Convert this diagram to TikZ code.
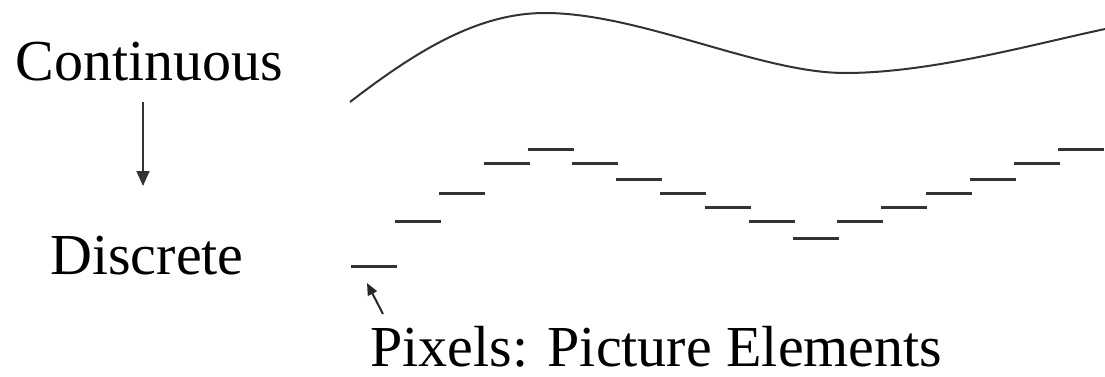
\documentclass[tikz,border=0pt]{standalone}
\usepackage{fontspec}
\setmainfont{Liberation Serif}
\usetikzlibrary{arrows.meta}
\begin{document}
\begin{tikzpicture}[x=0.5pt,y=-0.5pt,
  lbl/.style={inner sep=0pt,anchor=base west,font=\fontsize{29}{34}\selectfont},
  pix/.style={line width=1.5pt,black!80},
  arr/.style={-{Triangle[length=7.5pt,width=6.5pt]},line width=0.9pt,black!80},
  smallarr/.style={-{Triangle[length=6pt,width=5pt]},line width=1pt,black!85}]
\useasboundingbox (0,0) rectangle (1105,376);
% labels
\node[lbl] (cont) at (15,80) {Continuous};
\node[lbl] (disc) at (50,274) {Discrete};
\node[lbl] (pixlbl) at (370,366) {Pixels: Picture Elements};
% continuous -> discrete
\coordinate (down top) at (143,102);
\coordinate (down end) at (143,186);
\draw[arr] (down top) -- (down end);
% the signal
\draw[line width=1pt,black!80] (350,102) .. controls (420,48) and (480,13) .. (545,13)
  .. controls (640,13) and (760,73) .. (845,73)
  .. controls (930,73) and (1030,45) .. (1105,29);
% sampled pixels
\foreach \lev [count=\i from 0] in {266,221,193,163,149,163,179,193,207,221,238,221,207,193,179,163,149}
  \draw[pix] (351+44.2*\i,\lev) -- ++(46,0);
% pointer to a pixel
\coordinate (pix tail) at (383,314);
\coordinate (pix tip) at (367,283);
\draw[smallarr] (pix tail) -- (pix tip);
\end{tikzpicture}
\end{document}
